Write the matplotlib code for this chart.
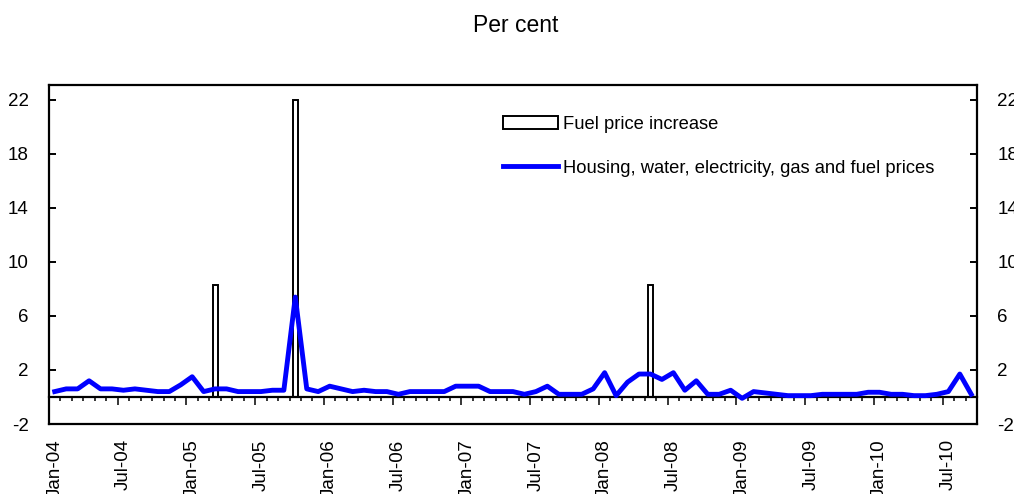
"""
Monthly housing/utility price changes vs fuel price increases, Jan-04 to Sep-10.
Output: out.png
"""

import matplotlib
matplotlib.use('Agg')
import matplotlib.pyplot as plt
import numpy as np
import pandas as pd
from matplotlib.ticker import FixedLocator, NullFormatter

plt.rcParams['font.family'] = ['Liberation Sans', 'DejaVu Sans']
plt.rcParams['axes.unicode_minus'] = False

# ── data ─────────────────────────────────────────────────────────────────────
months = pd.date_range('2004-01-01', '2010-09-01', freq='MS').strftime('%b-%y').tolist()

housing = [
    0.4, 0.6, 0.6, 1.2, 0.6, 0.6, 0.5, 0.6, 0.5, 0.4, 0.4, 0.9,   # 2004
    1.5, 0.4, 0.6, 0.6, 0.4, 0.4, 0.4, 0.5, 0.5, 7.4, 0.6, 0.4,   # 2005
    0.8, 0.6, 0.4, 0.5, 0.4, 0.4, 0.2, 0.4, 0.4, 0.4, 0.4, 0.8,   # 2006
    0.8, 0.8, 0.4, 0.4, 0.4, 0.2, 0.4, 0.8, 0.2, 0.2, 0.2, 0.6,   # 2007
    1.8, 0.1, 1.1, 1.7, 1.7, 1.3, 1.8, 0.5, 1.2, 0.2, 0.2, 0.5,   # 2008
    -0.1, 0.4, 0.3, 0.2, 0.1, 0.1, 0.1, 0.2, 0.2, 0.2, 0.2, 0.35,  # 2009
    0.35, 0.2, 0.2, 0.1, 0.1, 0.2, 0.4, 1.7, 0.2,                 # 2010
]

fuel_months = ['Mar-05', 'Oct-05', 'May-08']
fuel_values = [8.3, 22.0, 8.3]

yticks = [-2, 2, 6, 10, 14, 18, 22]

# ── figure ───────────────────────────────────────────────────────────────────
fig = plt.figure(figsize=(10.14, 4.94), dpi=100)
ax = fig.add_axes([0.0483, 0.1417, 0.9152, 0.6862])

x = np.arange(len(months))
fuel_x = [months.index(m) for m in fuel_months]

bars = ax.bar(fuel_x, fuel_values, width=0.45, color='white', edgecolor='black',
              linewidth=1.4, zorder=2, label='Fuel price increase')
line, = ax.plot(x, housing, color='#0000FF', lw=3.5, zorder=3,
                label='Housing, water, electricity, gas and fuel prices')

ax.set_xlim(-0.5, len(x) - 0.5)
ax.set_ylim(-2, 23.1)

# y axis: both sides, ticks inward
ax.set_yticks(yticks)
ax.tick_params(axis='y', direction='in', length=5, width=1.4, labelsize=13.5,
               right=True, labelright=True, pad=14.5)
for side in ('left', 'right', 'top'):
    ax.spines[side].set_linewidth(1.6)

# category axis crossing at zero
ax.spines['bottom'].set_position(('data', 0))
ax.spines['bottom'].set_linewidth(1.6)
bounds = np.arange(len(x) + 1) - 0.5
ax.xaxis.set_major_locator(FixedLocator(bounds[6:-1:6]))
ax.xaxis.set_minor_locator(FixedLocator(bounds[1:-1]))
ax.xaxis.set_major_formatter(NullFormatter())
ax.tick_params(axis='x', which='major', direction='out', length=6, width=1.1)
ax.tick_params(axis='x', which='minor', direction='out', length=3, width=1.1)

# labels along the bottom of the frame
sec = ax.secondary_xaxis('bottom')
sec.set_xticks(x[::6], labels=months[::6], rotation=90, fontsize=13.5, va='top')
sec.tick_params(length=0, pad=11)
sec.spines['bottom'].set_linewidth(1.6)

# ── legend / title ───────────────────────────────────────────────────────────
ax.legend(handles=[bars, line], loc='upper left', bbox_to_anchor=(0.489, 0.908),
          frameon=False, fontsize=13.2, handlelength=3.0, handleheight=0.7,
          labelspacing=1.45, handletextpad=0.3, borderpad=0, borderaxespad=0)

fig.text(0.509, 1 - 25 / 494, 'Per cent', ha='center', va='center', fontsize=16.5)

fig.savefig('out.png', dpi=100, facecolor='white')
